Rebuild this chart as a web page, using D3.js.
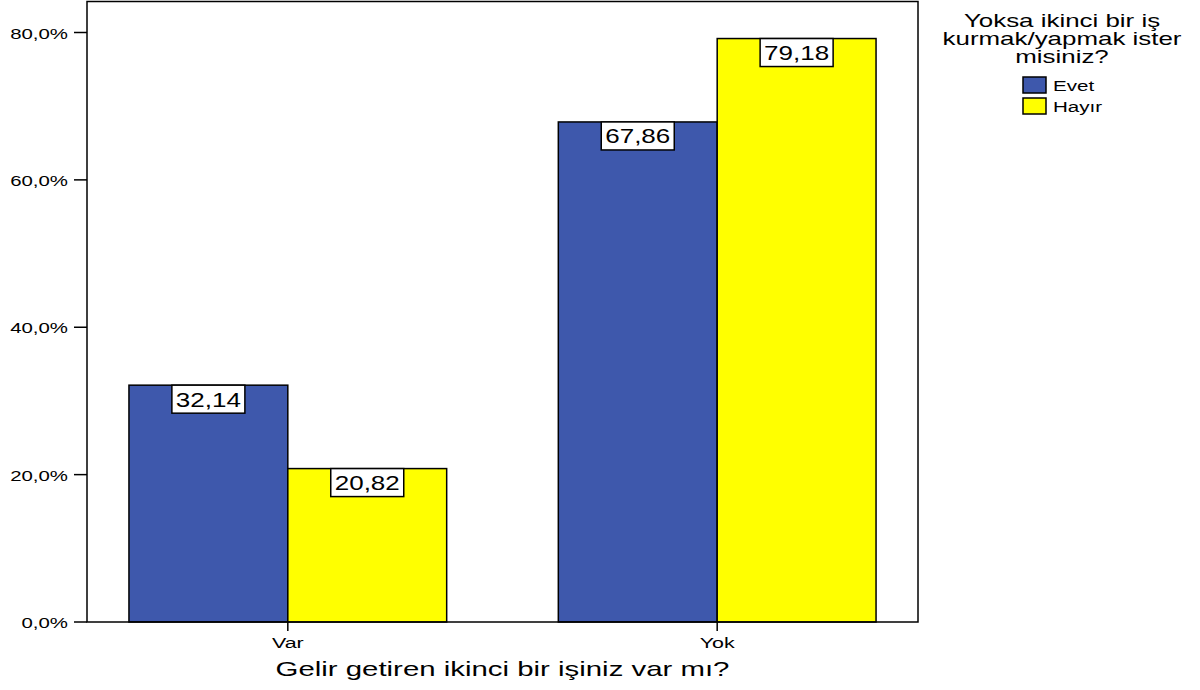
<!DOCTYPE html>
<html><head><meta charset="utf-8">
<script src="https://cdn.jsdelivr.net/npm/d3@7"></script>
<style>body{margin:0;background:#fff}svg{display:block}text{font-family:"Liberation Sans",Arial,sans-serif;fill:#000}</style>
</head><body><svg id="c" width="1200" height="690"></svg>
<script>
const categories = ["Var", "Yok"];
const seriesNames = ["Evet", "Hayır"];
const evetValues = [32.14, 67.86];
const hayirValues = [20.82, 79.18];
const yTicks = [0, 20, 40, 60, 80];
const xTitle = "Gelir getiren ikinci bir işiniz var mı?";
const legendTitle = ["Yoksa ikinci bir iş", "kurmak/yapmak ister", "misiniz?"];
const colors = ["#3E58AC", "#FFFF00"];

const svg = d3.select("#c");
const L = 87, R = 918, T = 1.5, B = 622;
const SX = 1.4;
const fmt = v => d3.format(".1f")(v).replace(".", ",");
const fmt2 = v => d3.format(".2f")(v).replace(".", ",");

const x = d3.scaleBand().domain(categories).range([L, R]).paddingInner(0.26).paddingOuter(0.0977);
const xs = d3.scaleBand().domain(seriesNames).range([0, x.bandwidth()]);
const y = d3.scaleLinear().domain([0, 80]).range([B, 32.5]);

function stext(g, tx, ty, str, size, anchor, sx) {
  return g.append("text").attr("transform", `translate(${tx},${ty}) scale(${sx || SX},1)`)
    .attr("text-anchor", anchor).attr("font-size", size).text(str);
}

const data = categories.map((c, i) => ({cat: c, vals: [evetValues[i], hayirValues[i]]}));

// bars
const gb = svg.append("g");
data.forEach(d => {
  d.vals.forEach((v, j) => {
    gb.append("rect").attr("x", x(d.cat) + xs(seriesNames[j])).attr("y", y(v))
      .attr("width", xs.bandwidth()).attr("height", y(0) - y(v))
      .attr("fill", colors[j]).attr("stroke", "#000").attr("stroke-width", 1.5);
  });
});
// value labels
data.forEach(d => {
  d.vals.forEach((v, j) => {
    const cx = x(d.cat) + xs(seriesNames[j]) + xs.bandwidth() / 2;
    const top = y(v);
    gb.append("rect").attr("x", cx - 36.5).attr("y", top).attr("width", 73).attr("height", 28)
      .attr("fill", "#fff").attr("stroke", "#000").attr("stroke-width", 1.5);
    stext(gb, cx, top + 21.5, fmt2(v), 20, "middle", 1.3);
  });
});

// frame
svg.append("rect").attr("x", L).attr("y", T).attr("width", R - L).attr("height", B - T)
  .attr("fill", "none").attr("stroke", "#000").attr("stroke-width", 1.5);

// y axis
const ga = svg.append("g");
yTicks.forEach(t => {
  ga.append("line").attr("x1", L - 13).attr("x2", L).attr("y1", y(t)).attr("y2", y(t))
    .attr("stroke", "#000").attr("stroke-width", 1.5);
  stext(ga, 68, y(t) + 6, fmt(t) + "%", 15, "end", 1.36);
});
// x axis
categories.forEach(c => {
  const cx = x(c) + x.bandwidth() / 2;
  ga.append("line").attr("x1", cx).attr("x2", cx).attr("y1", B).attr("y2", B + 9)
    .attr("stroke", "#000").attr("stroke-width", 1.5);
  stext(ga, cx, 648, c, 15, "middle", 1.43);
});
stext(ga, (L + R) / 2, 676, xTitle, 21, "middle", 1.4);

// legend
const lg = svg.append("g");
legendTitle.forEach((s, i) => stext(lg, 1062, 27 + i * 18, s, 18, "middle", 1.44));
seriesNames.forEach((s, i) => {
  lg.append("rect").attr("x", 1023).attr("y", 77 + i * 21).attr("width", 23).attr("height", 16)
    .attr("fill", colors[i]).attr("stroke", "#000").attr("stroke-width", 1.5);
  stext(lg, 1053, 91 + i * 21, s, 14.5, "start", 1.42);
});
</script></body></html>
